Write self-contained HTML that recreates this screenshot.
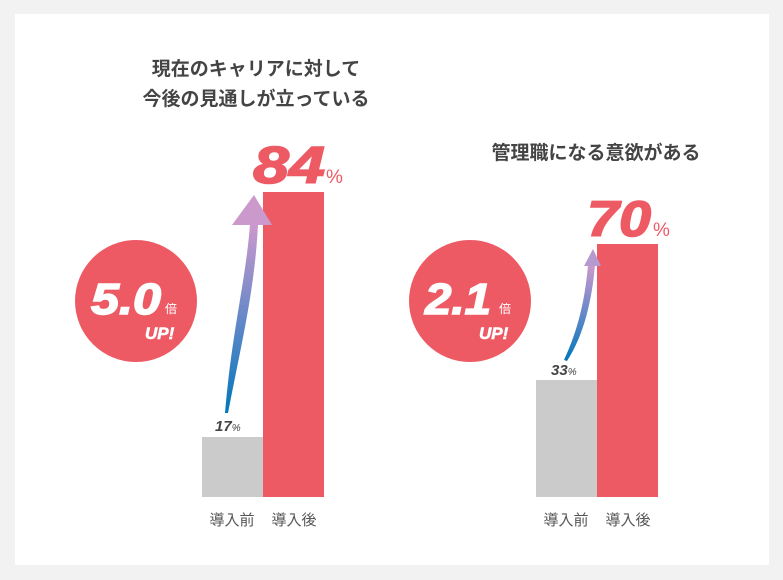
<!DOCTYPE html>
<html><head><meta charset="utf-8"><style>
body{margin:0;width:783px;height:580px;background:#f2f2f2;overflow:hidden;font-family:"Liberation Sans","Noto Sans CJK JP",sans-serif}
</style></head><body>
<svg width="783" height="580" viewBox="0 0 783 580" xmlns="http://www.w3.org/2000/svg" style="position:absolute;left:0;top:0">
<defs>
<linearGradient id="g1" x1="0" y1="1" x2="0" y2="0"><stop offset="0" stop-color="#0077bb"/><stop offset="0.5" stop-color="#6688c8"/><stop offset="1" stop-color="#cc99cc"/></linearGradient>
</defs>
<rect x="15" y="14" width="754" height="551" fill="#fff"/>
<g font-family="Liberation Sans,Noto Sans CJK JP,sans-serif" font-weight="bold" fill="#444" font-size="19" text-anchor="middle">
<text x="256" y="75">現在のキャリアに対して</text>
<text x="256" y="105">今後の見通しが立っている</text>
<text x="596" y="159">管理職になる意欲がある</text>
</g>
<rect x="202" y="437" width="61" height="60" fill="#cbcbcb"/>
<rect x="263" y="192" width="61" height="305" fill="#ed5a64"/>
<rect x="536" y="380" width="61" height="117" fill="#cbcbcb"/>
<rect x="597" y="244" width="61" height="253" fill="#ed5a64"/>
<path d="M225,413 C232,330 246,280 250,224 L258,224 C255,290 240,350 228,413 Z" fill="url(#g1)"/>
<polygon points="232,225 254,195 272,225" fill="#cc99cc"/>
<path d="M564,360 C578,330 585,300 588,265 L595,265 C592,300 584,335 567,361 Z" fill="url(#g1)"/>
<polygon points="584,266 593,249 601,266" fill="#b59ad0"/>
<circle cx="136" cy="301" r="61" fill="#ed5a64"/>
<circle cx="470" cy="301" r="61" fill="#ed5a64"/>
<g font-family="Liberation Sans,sans-serif" font-weight="bold" font-style="italic" fill="#fff" stroke="#fff" stroke-width="1.5">
<text x="91" y="314" font-size="44" textLength="70" lengthAdjust="spacingAndGlyphs">5.0</text>
<text x="145" y="339" font-size="17" stroke-width="0.6">UP!</text>
<text x="425" y="314" font-size="44" textLength="66" lengthAdjust="spacingAndGlyphs">2.1</text>
<text x="479" y="339" font-size="17" stroke-width="0.6">UP!</text>
</g>
<text x="165" y="313" font-size="12" fill="#fff" font-family="Noto Sans CJK JP,sans-serif">倍</text>
<text x="499" y="313" font-size="12" fill="#fff" font-family="Noto Sans CJK JP,sans-serif">倍</text>
<g font-family="Liberation Sans,sans-serif" font-weight="bold" font-style="italic" fill="#ed5a64" stroke="#ed5a64" stroke-width="1.5">
<text x="253" y="183" font-size="52" textLength="72" lengthAdjust="spacingAndGlyphs">84</text>
<text x="587" y="236" font-size="50" textLength="64" lengthAdjust="spacingAndGlyphs">70</text>
</g>
<text x="326" y="183" font-size="19" fill="#ed5a64" font-family="Liberation Sans,sans-serif">%</text>
<text x="653" y="236" font-size="19" fill="#ed5a64" font-family="Liberation Sans,sans-serif">%</text>
<g font-family="Liberation Sans,sans-serif" font-weight="bold" font-style="italic" fill="#444">
<text x="215" y="431" font-size="15">17<tspan font-size="10" font-weight="normal">%</tspan></text>
<text x="551" y="375" font-size="15">33<tspan font-size="10" font-weight="normal">%</tspan></text>
</g>
<g font-family="Liberation Sans,Noto Sans CJK JP,sans-serif" font-size="15" fill="#555" text-anchor="middle">
<text x="232" y="525">導入前</text><text x="294" y="525">導入後</text>
<text x="566" y="525">導入前</text><text x="628" y="525">導入後</text>
</g>
</svg>
</body></html>
